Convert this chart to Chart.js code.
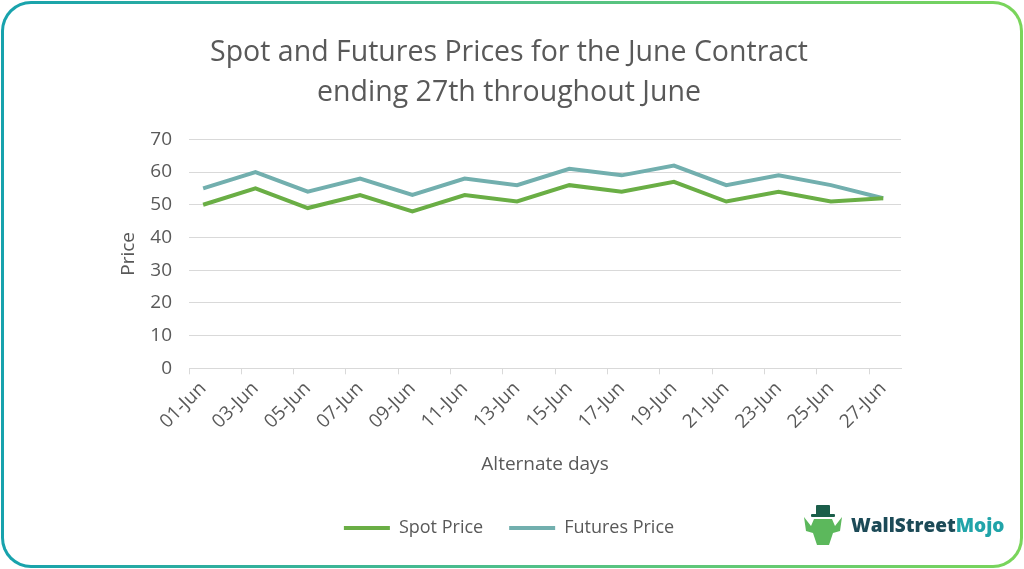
<!DOCTYPE html>
<html>
<head>
<meta charset="utf-8">
<script src="https://cdn.jsdelivr.net/npm/chart.js@4.4.0/dist/chart.umd.min.js"></script>
<style>
    html, body { margin: 0; padding: 0; background: #ffffff; }
    #frame {
        position: absolute; left: 1px; top: 1px; width: 1022px; height: 567px;
        box-sizing: border-box; border-radius: 30px; padding: 3px;
        background: linear-gradient(90deg, #17a2ad, #4fbf8a 50%, #7ad55a);
    }
    #inner { width: 100%; height: 100%; background: #fff; border-radius: 27px; }
    #wrap { position: absolute; left: 0; top: 0; width: 1024px; height: 569px; }
    #logo {
        position: absolute; left: 802px; top: 504px; height: 42px;
        font-family: 'Open Sans', sans-serif; font-weight: 800; font-size: 19px;
        display: flex; align-items: center;
    }
    #logo .icon { width: 42px; height: 42px; margin-right: 7px; }
    #logo .dark { color: #1c4a57; }
    #logo .teal { color: #21a4a9; }
</style>
</head>
<body>
<div id="frame"><div id="inner"></div></div>
<div id="wrap"><canvas id="priceChart" width="1024" height="569"></canvas></div>
<div id="logo">
    <div class="icon">
        <svg width="42" height="42" viewBox="0 0 42 42">
            <rect x="14" y="1" width="14" height="10" rx="1" fill="#1b5e4a"/>
            <rect x="9" y="10" width="24" height="3" rx="1" fill="#1b5e4a"/>
            <path d="M2 13 L9 22 L12 15 L30 15 L33 22 L40 13 L38 27 L31 29 L27 41 L15 41 L11 29 L4 27 Z" fill="#5cb85c"/>
        </svg>
    </div>
    <span class="dark">WallStreet</span><span class="teal">Mojo</span>
</div>
<script>
// datos
const days = ['01-Jun', '03-Jun', '05-Jun', '07-Jun', '09-Jun', '11-Jun', '13-Jun',
    '15-Jun', '17-Jun', '19-Jun', '21-Jun', '23-Jun', '25-Jun', '27-Jun'];
const spotPrice = [50, 55, 49, 53, 48, 53, 51, 56, 54, 57, 51, 54, 51, 52];
const futuresPrice = [55, 60, 54, 58, 53, 58, 56, 61, 59, 62, 56, 59, 56, 52];

const textColor = '#595959';
const gridColor = '#d9d9d9';
const fontFamily = "'Open Sans', sans-serif";

// el eje x es lineal con indice de dia, para dejar margen como en Excel
const toPoints = arr => arr.map((v, i) => ({ x: i, y: v }));

const ctx = document.getElementById('priceChart');

new Chart(ctx, {
    type: 'line',
    data: {
        datasets: [{
            label: 'Spot Price',
            data: toPoints(spotPrice),
            borderColor: '#6aae45',
            backgroundColor: '#6aae45',
            borderWidth: 4,
            pointRadius: 0,
            tension: 0
        }, {
            label: 'Futures Price',
            data: toPoints(futuresPrice),
            borderColor: '#72afae',
            backgroundColor: '#72afae',
            borderWidth: 4,
            pointRadius: 0,
            tension: 0
        }]
    },
    options: {
        responsive: false,
        animation: false,
        layout: {
            autoPadding: false,
            padding: { left: 117, right: 123, top: 18, bottom: 22 }
        },
        plugins: {
            title: {
                display: true,
                text: ['Spot and Futures Prices for the June Contract', 'ending 27th throughout June'],
                color: textColor,
                font: { family: fontFamily, size: 28.5, weight: 'normal', lineHeight: 1.41 },
                padding: { top: 15, bottom: 26 }
            },
            legend: {
                position: 'bottom',
                labels: {
                    color: textColor,
                    font: { family: fontFamily, size: 18 },
                    usePointStyle: true,
                    pointStyle: 'line',
                    pointStyleWidth: 46,
                    padding: 26
                }
            },
            tooltip: { enabled: false }
        },
        scales: {
            x: {
                type: 'linear',
                min: -0.27,
                max: 13.34,
                // marcas entre dias y etiquetas en cada dia
                afterBuildTicks: axis => {
                    axis.ticks = days.flatMap((d, i) => [{ value: i - 0.27 }, { value: i }]);
                },
                grid: {
                    drawOnChartArea: false,
                    color: c => Number.isInteger(c.tick.value) ? 'rgba(0,0,0,0)' : gridColor,
                    tickLength: 6
                },
                border: { color: gridColor },
                ticks: {
                    color: textColor,
                    font: { family: fontFamily, size: 19 },
                    minRotation: 45,
                    maxRotation: 45,
                    autoSkip: false,
                    callback: value => Number.isInteger(value) ? days[value] : ''
                },
                title: {
                    display: true,
                    text: 'Alternate days',
                    color: textColor,
                    font: { family: fontFamily, size: 19 },
                    padding: { top: 17, bottom: 17 }
                }
            },
            y: {
                min: 0,
                max: 70,
                // ancho fijo del eje para que el area empiece donde en el original
                afterFit: axis => {
                    axis.width = 72;
                },
                ticks: {
                    stepSize: 10,
                    color: textColor,
                    font: { family: fontFamily, size: 19 },
                    padding: 17
                },
                grid: { color: gridColor, drawTicks: false },
                border: { display: false },
                title: {
                    display: true,
                    text: 'Price',
                    color: textColor,
                    font: { family: fontFamily, size: 19 },
                    padding: { top: 0, bottom: 10 }
                }
            }
        }
    }
});
</script>
</body>
</html>
